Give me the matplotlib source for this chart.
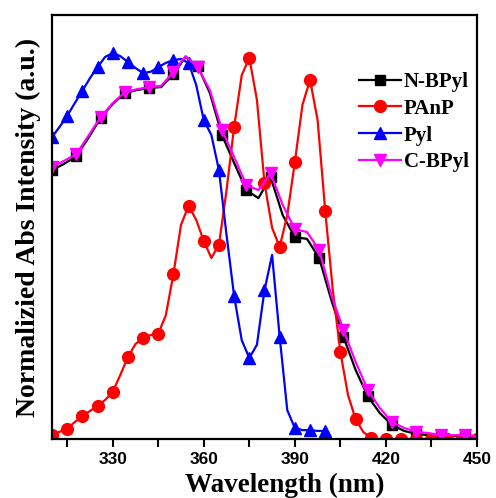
import numpy as np
import matplotlib
matplotlib.use("Agg")
import matplotlib.pyplot as plt

# Absorption spectra, normalized intensity
# PAnP and PyI sampled every 2.5 nm (markers every 5 nm)
wl_panp = np.arange(310, 450.01, 2.5)
panp = [0.009, 0.017, 0.024, 0.040, 0.054, 0.066, 0.078, 0.092, 0.111, 0.151,
        0.193, 0.224, 0.238, 0.245, 0.248, 0.292, 0.389, 0.505, 0.550, 0.517,
        0.467, 0.427, 0.458, 0.587, 0.736, 0.858, 0.899, 0.800, 0.604, 0.498,
        0.453, 0.528, 0.653, 0.788, 0.847, 0.752, 0.538, 0.351, 0.205, 0.104,
        0.047, 0.017, 0.002, 0.0, 0.0, 0.0, 0.0, 0.0, 0.0, 0.0,
        0.0, 0.0, 0.0, 0.0, 0.0, 0.0, 0.0]

wl_pyl = np.arange(310, 400.01, 2.5)
pyl = [0.712, 0.736, 0.762, 0.792, 0.821, 0.851, 0.877, 0.901, 0.910, 0.903,
       0.889, 0.875, 0.863, 0.866, 0.877, 0.887, 0.894, 0.896, 0.887, 0.835,
       0.752, 0.717, 0.634, 0.481, 0.337, 0.233, 0.191, 0.222, 0.351, 0.434,
       0.241, 0.068, 0.026, 0.021, 0.021, 0.019, 0.019]

# N-BPyl and C-BPyl sampled every 4 nm (markers every 8 nm)
wl_bpyl = np.arange(310, 450.01, 4)
n_bpyl = [0.634, 0.649, 0.667, 0.710, 0.757, 0.790, 0.816, 0.823, 0.828, 0.830,
          0.861, 0.901, 0.880, 0.816, 0.717, 0.651, 0.587, 0.568, 0.618, 0.528,
          0.476, 0.472, 0.427, 0.328, 0.241, 0.163, 0.101, 0.061, 0.033, 0.019,
          0.012, 0.009, 0.007, 0.007, 0.007, 0.005]
c_bpyl = [0.642, 0.656, 0.672, 0.715, 0.759, 0.792, 0.818, 0.825, 0.830, 0.833,
          0.866, 0.903, 0.877, 0.823, 0.729, 0.665, 0.599, 0.587, 0.627, 0.552,
          0.495, 0.488, 0.446, 0.340, 0.257, 0.182, 0.116, 0.073, 0.040, 0.026,
          0.017, 0.014, 0.009, 0.009, 0.009, 0.007]

xticks = [330, 360, 390, 420, 450]

serif = ["Liberation Serif", "DejaVu Serif"]
sans = ["Liberation Sans", "DejaVu Sans"]

fig = plt.figure(figsize=(4.96, 4.98), dpi=100)
ax = fig.add_axes([0.1048, 0.1185, 0.8569, 0.8514])

lw = 1.6
ax.plot(wl_bpyl, n_bpyl, color="black", lw=lw, marker="s", ms=7,
        markevery=2, label="N-BPyl")
ax.plot(wl_panp, panp, color="#ff0000", lw=lw, marker="o", ms=8.5,
        markevery=2, label="PAnP")
ax.plot(wl_pyl, pyl, color="#0000ff", lw=lw, marker="^", ms=8.5,
        markevery=2, label="Pyl")
ax.plot(wl_bpyl, c_bpyl, color="#ff00ff", lw=lw, marker="v", ms=8.5,
        markevery=2, label="C-BPyl")

ax.set_xlim(310, 450)
ax.set_ylim(0, 1)
ax.set_xticks(xticks)
ax.set_xticks(np.arange(315, 450, 30), minor=True)
ax.set_yticks([])
ax.tick_params(axis="x", which="both", direction="out", length=5.5, width=1.5,
               top=False, pad=4)
for lab in ax.get_xticklabels():
    lab.set_fontfamily(sans)
    lab.set_fontweight("bold")
    lab.set_fontsize(12.5)
for sp in ax.spines.values():
    sp.set_linewidth(1.6)

ax.set_xlabel("Wavelength (nm)", family=serif, fontweight="bold",
              fontsize=19.5)
ax.xaxis.set_label_coords(0.547, -0.125, transform=ax.transAxes)
ax.xaxis.label.set_va("baseline")
ax.set_ylabel("Normalizied Abs Intensity (a.u.)", family=serif,
              fontweight="bold", fontsize=20, labelpad=8)

leg = ax.legend(loc="upper left", bbox_to_anchor=(0.722, 0.866), frameon=False,
                numpoints=1, handlelength=2.0, handletextpad=0.15,
                labelspacing=0.33, borderpad=0, borderaxespad=0,
                prop={"family": serif, "weight": "bold", "size": 15})

fig.savefig("out.png", dpi=100, facecolor="white")
